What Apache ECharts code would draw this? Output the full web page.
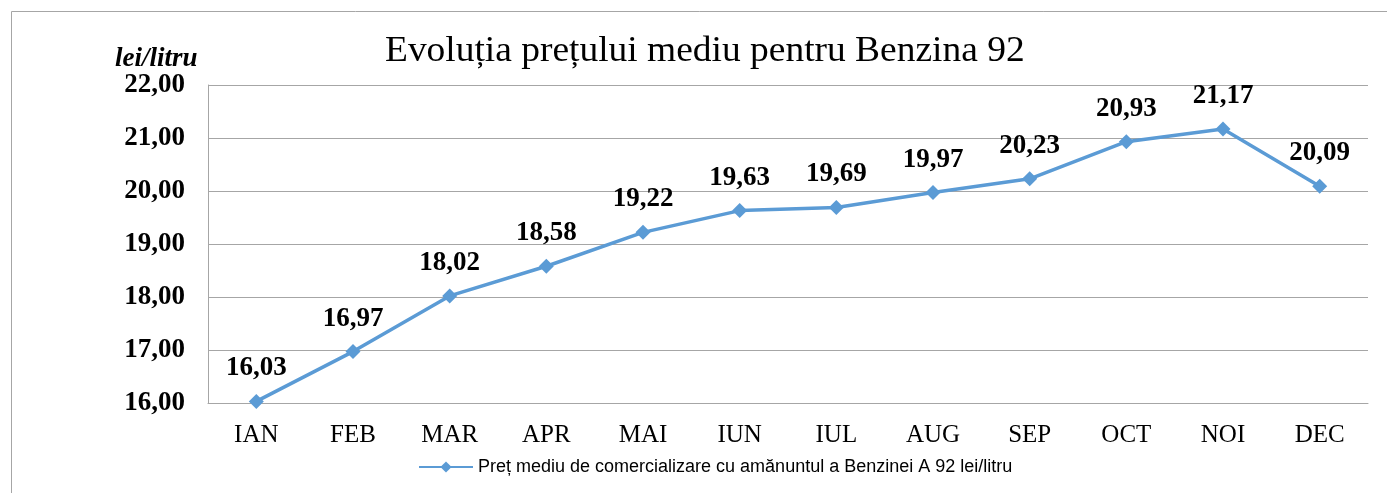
<!DOCTYPE html>
<html>
<head>
<meta charset="utf-8">
<title>Evoluția prețului mediu pentru Benzina 92</title>
<script src="https://cdn.jsdelivr.net/npm/echarts@6/dist/echarts.min.js"></script>
<style>
  html, body { margin: 0; padding: 0; background: #ffffff; }
  #chart { width: 1387px; height: 493px; }
</style>
</head>
<body>
<div id="chart"></div>
<script>
/* chart data */
let months = ["IAN", "FEB", "MAR", "APR", "MAI", "IUN", "IUL", "AUG", "SEP", "OCT", "NOI", "DEC"];
let prices = [16.03, 16.97, 18.02, 18.58, 19.22, 19.63, 19.69, 19.97, 20.23, 20.93, 21.17, 20.09];
let seriesName = "Preț mediu de comercializare cu amănuntul a Benzinei A 92 lei/litru";
let chartTitle = "Evoluția prețului mediu pentru Benzina 92";
let unitLabel = "lei/litru";

let serif = "'Liberation Serif', 'Times New Roman', serif";

/* number with comma decimal */
function fmt(v) {
  return v.toFixed(2).replace(".", ",");
}

let myChart = echarts.init(document.getElementById("chart"));
let option = {
  animation: false,
  title: {
    text: unitLabel,
    left: 110,
    top: 41,
    textStyle: { fontFamily: serif, fontSize: 27, fontWeight: "bold", fontStyle: "italic", color: "#000000" },
  },
  graphic: [
    {
      type: "rect",
      shape: { x: 11.5, y: 11.5, width: 1400, height: 500 },
      style: { fill: "none", stroke: "#a6a6a6", lineWidth: 1 },
      silent: true,
    },
    {
      //title is a bit wider than plain Times
      type: "text",
      x: 385,
      y: 34,
      scaleX: 1.07,
      style: {
        text: chartTitle,
        font: "normal 35px " + serif,
        fill: "#000000",
        textVerticalAlign: "top",
      },
      silent: true,
    },
  ],
  legend: {
    left: 413,
    top: 453,
    itemWidth: 54,
    itemHeight: 14,
    itemGap: 6,
    textStyle: { fontFamily: "'Liberation Sans', Arial, sans-serif", fontSize: 18, color: "#000000" },
    data: [seriesName],
  },
  grid: { left: 208, right: 19, top: 85, bottom: 90 },
  xAxis: {
    type: "category",
    data: months,
    boundaryGap: true,
    axisLine: { lineStyle: { color: "#a6a6a6", width: 1 } },
    axisTick: { show: false },
    axisLabel: { margin: 20, fontFamily: serif, fontSize: 25, color: "#000000" },
  },
  yAxis: {
    type: "value",
    min: 16,
    max: 22,
    interval: 1,
    axisLine: { show: true, lineStyle: { color: "#a6a6a6", width: 1 } },
    axisTick: { show: false },
    splitLine: { lineStyle: { color: "#a6a6a6", width: 1 } },
    axisLabel: {
      margin: 23,
      fontFamily: serif,
      fontSize: 27,
      fontWeight: "bold",
      color: "#000000",
      formatter: function (v) {
        return fmt(v);
      },
    },
  },
  series: [
    {
      name: seriesName,
      type: "line",
      data: prices,
      symbol: "diamond",
      symbolSize: 15,
      lineStyle: { color: "#5b9bd5", width: 3.5 },
      itemStyle: { color: "#5b9bd5" },
      label: {
        show: true,
        position: "top",
        distance: 12,
        fontFamily: serif,
        fontSize: 27,
        fontWeight: "bold",
        color: "#000000",
        formatter: function (p) {
          return fmt(p.value);
        },
      },
    },
  ],
};
myChart.setOption(option);
</script>
</body>
</html>
